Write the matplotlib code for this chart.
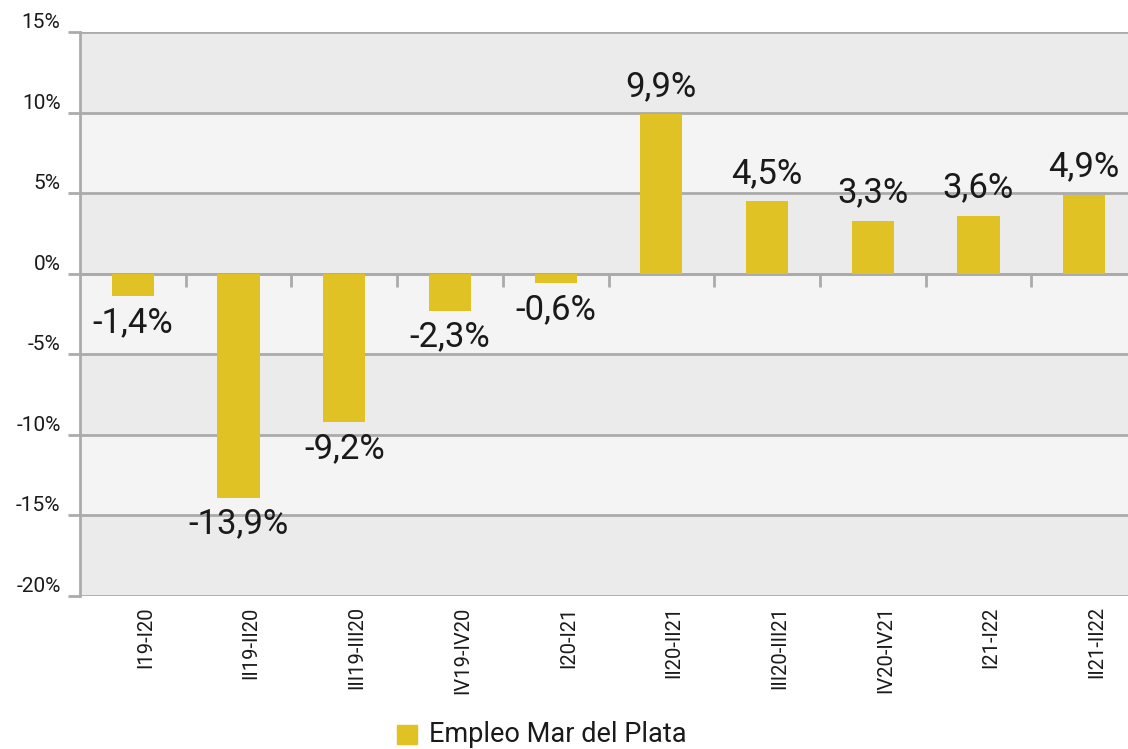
import matplotlib
matplotlib.use("Agg")
import matplotlib.pyplot as plt
import matplotlib.transforms as mtransforms
from matplotlib.patches import Rectangle
import numpy as np

categories = ["I19-I20", "II19-II20", "III19-III20", "IV19-IV20", "I20-I21",
              "II20-II21", "III20-III21", "IV20-IV21", "I21-I22", "II21-II22"]
values = [-1.4, -13.9, -9.2, -2.3, -0.6, 9.9, 4.5, 3.3, 3.6, 4.9]
value_labels = ["-1,4%", "-13,9%", "-9,2%", "-2,3%", "-0,6%",
                "9,9%", "4,5%", "3,3%", "3,6%", "4,9%"]
yticks = [-20, -15, -10, -5, 0, 5, 10, 15]
ytick_labels = ["-20%", "-15%", "-10%", "-5%", "0%", "5%", "10%", "15%"]
series_name = "Empleo Mar del Plata"

plt.rcParams['font.family'] = ['Roboto', 'DejaVu Sans']

BAR = "#E0C224"
GRID = "#ABABAB"
BAND_A = "#EBEBEB"
BAND_B = "#F4F4F4"
TXT = "#1a1a1a"

fig = plt.figure(figsize=(11.28, 7.49), dpi=100)
ax = fig.add_axes([80/1128, 1 - 596/749, 1057/1128, (596 - 32)/749])

n = len(categories)
x = np.arange(n)
ax.set_xlim(-0.5, n - 0.5)
ax.set_ylim(-20, 15)

# alternating bands
for i in range(len(yticks) - 1):
    lo, hi = yticks[i], yticks[i + 1]
    col = BAND_A if (len(yticks) - 2 - i) % 2 == 0 else BAND_B
    ax.axhspan(lo, hi, color=col, zorder=0, lw=0)

for y in yticks:
    ax.axhline(y, color=GRID, lw=2, zorder=1)

ax.bar(x, values, width=0.4, color=BAR, zorder=3)

for xi, v, lab in zip(x, values, value_labels):
    if v >= 0:
        ax.annotate(lab, (xi, v), xytext=(0, 8), textcoords="offset points",
                    ha="center", va="bottom", fontsize=25,
                    color=TXT, zorder=4)
    else:
        ax.annotate(lab, (xi, v), xytext=(0, -7), textcoords="offset points",
                    ha="center", va="top", fontsize=25,
                    color=TXT, zorder=4)

# spines
for s in ["top", "right"]:
    ax.spines[s].set_visible(False)
ax.spines["left"].set_color(GRID)
ax.spines["left"].set_linewidth(2)
ax.spines["bottom"].set_position(("data", 0))
ax.spines["bottom"].set_color(GRID)
ax.spines["bottom"].set_linewidth(2)

ax.set_yticks(yticks)
ax.set_yticklabels(ytick_labels, fontsize=15, color=TXT)
ax.tick_params(axis="y", length=9, width=2, color=GRID, pad=5)
for t in ax.get_yticklabels():
    t.set_va("bottom")

# category boundary ticks on zero line
ax.set_xticks(np.arange(n - 1) + 0.5)
ax.set_xticklabels([])
ax.tick_params(axis="x", length=9, width=2, color=GRID, direction="out")

trans = mtransforms.blended_transform_factory(ax.transData, ax.transAxes)
for xi, c in zip(x, categories):
    ax.text(xi + 0.12, -0.018, c, rotation=90, ha="center", va="top",
            fontsize=14.5, color=TXT, transform=trans)

# legend
fig.patches.append(Rectangle((397/1128, 1 - 744/749), 20/1128, 19/749,
                             transform=fig.transFigure, color=BAR))
fig.text(429/1128, 1 - 735/749, series_name, fontsize=19.5, va="center",
         ha="left", color=TXT)

fig.savefig("out.png", dpi=100)
